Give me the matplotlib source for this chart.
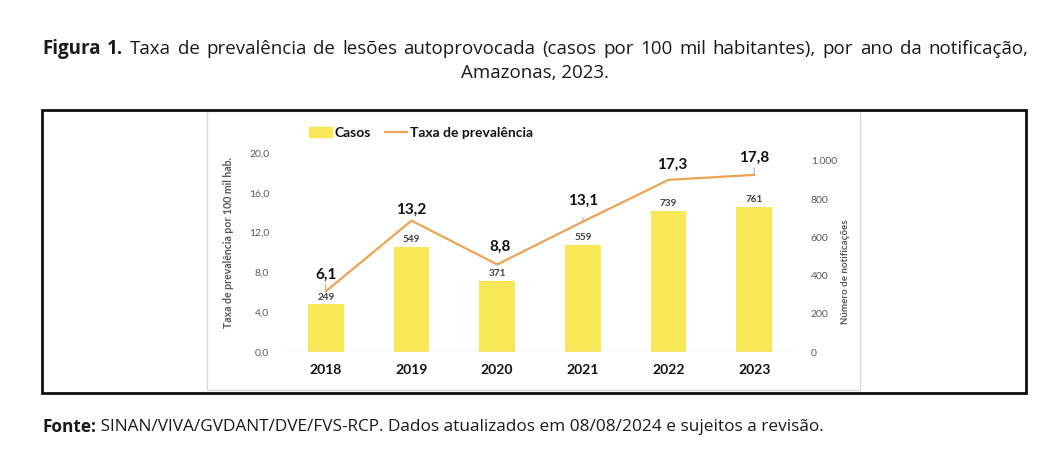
import matplotlib
matplotlib.use("Agg")
import matplotlib.pyplot as plt
from matplotlib.patches import Rectangle, Patch
from matplotlib.lines import Line2D

# ---- data ----
years = ["2018", "2019", "2020", "2021", "2022", "2023"]
casos = [249, 549, 371, 559, 739, 761]
taxa = [6.1, 13.2, 8.8, 13.1, 17.3, 17.8]
taxa_labels = ["6,1", "13,2", "8,8", "13,1", "17,3", "17,8"]
left_ticks = [0, 4, 8, 12, 16, 20]
left_tick_labels = ["0,0", "4,0", "8,0", "12,0", "16,0", "20,0"]
right_ticks = [0, 200, 400, 600, 800, 1000]
right_tick_labels = ["0", "200", "400", "600", "800", "1.000"]

W, H = 1056, 449
fig = plt.figure(figsize=(W / 100, H / 100), dpi=100)
fig.patch.set_facecolor("white")

def fx(px):
    return px / W

def fy(py):
    return 1 - py / H

DOC_FONT = "Open Sans"
CH_FONT = "Lato"
GREY = "#595959"
BAR_C = "#F8E858"
LINE_C = "#EDA452"

# frames
fig.add_artist(Rectangle((fx(207), fy(390)), fx(860) - fx(207), fy(111) - fy(390),
                         transform=fig.transFigure, fill=False, ec="#d9d9d9", lw=1.0))
fig.add_artist(Rectangle((fx(42), fy(393)), fx(1026) - fx(42), fy(110) - fy(393),
                         transform=fig.transFigure, fill=False, ec="#111111", lw=2.0))

# axes
ax = fig.add_axes([fx(283), fy(352), fx(797) - fx(283), fy(153) - fy(352)])
ax2 = ax.twinx()
x = list(range(len(years)))

ax2.bar(x, casos, width=0.42, color=BAR_C, zorder=1)
ax2.set_ylim(0, 1000 * 199 / 191)
ax.set_ylim(0, 20)
ax.set_xlim(-0.5, len(years) - 0.5)

ax.set_zorder(ax2.get_zorder() + 1)
ax.patch.set_visible(False)
ax.plot(x, taxa, color=LINE_C, lw=1.6, zorder=3)

for a in (ax, ax2):
    for s in a.spines.values():
        s.set_visible(False)
ax.axhline(0, color="#d9d9d9", lw=1.0, zorder=0)

ax.set_yticks(left_ticks)
ax.set_yticklabels(left_tick_labels, fontsize=7.5, color=GREY, family=CH_FONT)
ax.tick_params(axis="y", length=0, pad=10)
ax2.set_yticks(right_ticks)
ax2.set_yticklabels(right_tick_labels, fontsize=7.5, color=GREY, family=CH_FONT)
ax2.tick_params(axis="y", length=0, pad=10)
ax.set_xticks(x)
ax.set_xticklabels(years, fontsize=10, fontweight="bold", color="#111111", family=CH_FONT)
ax.tick_params(axis="x", length=0, pad=9)

fig.text(fx(228), fy(242), "Taxa de prevalência por 100 mil hab.", rotation=90,
         ha="center", va="center", fontsize=7.6, fontweight="bold", color=GREY, family=CH_FONT)
fig.text(fx(845), fy(272), "Número de notificações", rotation=90,
         ha="center", va="center", fontsize=7.0, fontweight="bold", color=GREY, family=CH_FONT)

# bar labels
for xi, v in zip(x, casos):
    ax2.annotate(str(v), (xi, v), xytext=(0, 2), textcoords="offset points",
                 ha="center", va="bottom", fontsize=7.2, fontweight="bold", color="#404040",
                 family=CH_FONT)

# rate labels (offsets in points)
offsets = [(0, 12), (0, 8), (2, 13), (0, 15), (3, 11), (0, 12)]
leaders = [True, False, True, True, False, True]
for xi, v, lab, off, ld in zip(x, taxa, taxa_labels, offsets, leaders):
    ax.annotate(lab, (xi, v), xytext=off, textcoords="offset points",
                ha="center", va="center", fontsize=11, fontweight="bold", color="#111111",
                family=CH_FONT, zorder=5,
                arrowprops=dict(arrowstyle="-", color="#a6a6a6", lw=0.7,
                                shrinkA=5, shrinkB=0) if ld else None)

# legend
handles = [Patch(color=BAR_C), Line2D([0], [0], color=LINE_C, lw=1.6)]
fig.legend(handles, ["Casos", "Taxa de prevalência"], loc="center",
           bbox_to_anchor=(fx(421), fy(133)), ncol=2, frameon=False,
           prop=dict(family=CH_FONT, weight="bold", size=10),
           handlelength=1.6, handletextpad=0.2, columnspacing=1.0,
           labelcolor="#111111")

# document text
fig.canvas.draw()
r = fig.canvas.get_renderer()
TXT_C = "#1a1a1a"

def width_of(txt, wt, size):
    t = fig.text(0, 0, txt, fontsize=size, fontweight=wt, family=DOC_FONT)
    w = t.get_window_extent(renderer=r).width
    t.remove()
    return w

def justified(x0, x1, ypx, words, size):
    widths = [width_of(w, wt, size) for w, wt in words]
    gap = (x1 - x0 - sum(widths)) / (len(words) - 1)
    cur = x0
    for (w, wt), wd in zip(words, widths):
        fig.text(fx(cur), fy(ypx), w, ha="left", va="center", fontsize=size,
                 fontweight=wt, family=DOC_FONT, color=TXT_C)
        cur += wd + gap

line1_rest = " Taxa de prevalência de lesões autoprovocada (casos por 100 mil habitantes), por ano da notificação,"
nat = width_of("Figura 1.", "bold", 12) + width_of(line1_rest, "normal", 12)
title_size = 12 * 955 / nat
title_words = [("Figura", "bold"), ("1.", "bold")] + [(w, "normal") for w in line1_rest.split()]
justified(42, 1028, 49, title_words, title_size)
fig.text(fx(535), fy(73), "Amazonas, 2023.", ha="center", va="center", fontsize=title_size,
         family=DOC_FONT, color=TXT_C)

fonte_rest = " SINAN/VIVA/GVDANT/DVE/FVS-RCP. Dados atualizados em 08/08/2024 e sujeitos a revisão."
fw = width_of("Fonte:", "bold", 12) + width_of(fonte_rest, "normal", 12)
fonte_size = 12 * 780 / fw
t1 = fig.text(fx(42), fy(427), "Fonte:", ha="left", va="center", fontsize=fonte_size,
              fontweight="bold", family=DOC_FONT, color=TXT_C)
w1 = t1.get_window_extent(renderer=r).width
fig.text(fx(42 + w1), fy(427), fonte_rest, ha="left", va="center", fontsize=fonte_size,
         family=DOC_FONT, color=TXT_C)

fig.savefig("out.png", dpi=100)
